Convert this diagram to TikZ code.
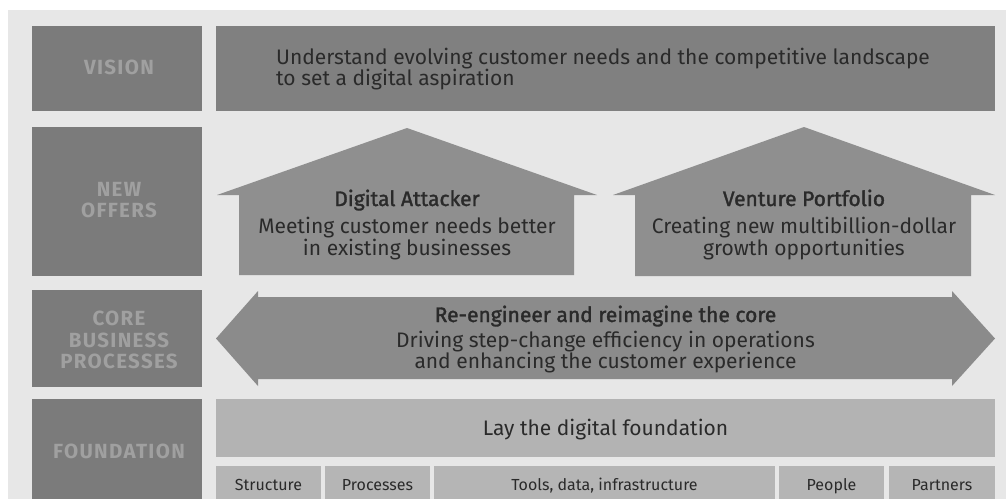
\documentclass[tikz,border=0pt]{standalone}
\usepackage{fontspec}
\setmainfont{Fira Sans}
\newfontfamily\headfont{Fira Sans}[FakeBold=1.6]
\newfontfamily\labelfont{Fira Sans}[LetterSpace=6.5]
\definecolor{pagebg}{HTML}{E7E7E7}
\definecolor{labelbox}{HTML}{7B7B7B}
\definecolor{labeltext}{HTML}{A0A0A0}
\definecolor{visionbox}{HTML}{808080}
\definecolor{offerfill}{HTML}{8F8F8F}
\definecolor{corefill}{HTML}{8B8B8B}
\definecolor{basebar}{HTML}{B3B3B3}
\definecolor{basecell}{HTML}{B5B5B5}
\definecolor{ink}{HTML}{2A2A2A}
\begin{document}
\begin{tikzpicture}[x=1pt,y=-1pt,
  rowlabel/.style={text=labeltext,font=\labelfont\bfseries\fontsize{20.5}{21.5}\selectfont,align=center,inner sep=0pt},
  bodytext/.style={text=ink,font=\fontsize{21}{22}\selectfont,inner sep=0pt,anchor=base},
  titletext/.style={text=ink,font=\headfont\fontsize{21}{22}\selectfont,inner sep=0pt,anchor=base},
  celltext/.style={text=ink,font=\fontsize{16}{18}\selectfont,inner sep=0pt,anchor=base}]
\useasboundingbox (0,0) rectangle (1006,499);
% page
\fill[white] (0,0) rectangle (1006,499);
\fill[pagebg] (8,10) rectangle (1006,499);

% left column of row labels
\fill[labelbox] (32,26) rectangle (202,111);
\fill[labelbox] (32,127) rectangle (202,276);
\fill[labelbox] (32,290) rectangle (202,387);
\fill[labelbox] (32,399) rectangle (202,499);
\node[rowlabel] (lvision) at (119,67) {VISION};
\node[rowlabel] (loffers) at (119,200) {NEW\\OFFERS};
\node[rowlabel] (lcore) at (119,340) {CORE\\BUSINESS\\PROCESSES};
\node[rowlabel] (lfound) at (119,451) {FOUNDATION};

% vision
\fill[visionbox] (216,26) rectangle (995,111);
\node[bodytext,anchor=base west] (vis1) at (276,64) {Understand evolving customer needs and the competitive landscape};
\node[bodytext,anchor=base west] (vis2) at (276,85) {to set a digital aspiration};

% new offers: two houses
\fill[offerfill] (407,128) -- (597,195) -- (574,195) -- (574,275) -- (239,275) -- (239,195) -- (217,195) -- cycle;
\fill[offerfill] (804,127) -- (995,195) -- (971,195) -- (971,276) -- (635,276) -- (635,195) -- (613,195) -- cycle;
\node[titletext] (da0) at (407,206) {Digital Attacker};
\node[bodytext] (da1) at (407,233) {Meeting customer needs better};
\node[bodytext] (da2) at (407,255) {in existing businesses};
\node[titletext] (vp0) at (804,206) {Venture Portfolio};
\node[bodytext] (vp1) at (804,233) {Creating new multibillion-dollar};
\node[bodytext] (vp2) at (804,255) {growth opportunities};

% core business processes: double arrow
\fill[corefill] (216,338.5) -- (258,291) -- (258,297) -- (952,297) -- (952,291) -- (995,338.5)
  -- (952,386) -- (952,379) -- (258,379) -- (258,386) -- cycle;
\node[titletext] (core0) at (605.5,322) {Re-engineer and reimagine the core};
\node[bodytext] (core1) at (605.5,347) {Driving step-change efficiency in operations};
\node[bodytext] (core2) at (605.5,368) {and enhancing the customer experience};

% foundation
\fill[basebar] (216,399) rectangle (995,457);
\node[bodytext] (found) at (605.5,435) {Lay the digital foundation};
\fill[basecell] (216,466) rectangle (321,499);
\fill[basecell] (325,466) rectangle (430,499);
\fill[basecell] (434,466) rectangle (775,499);
\fill[basecell] (779,466) rectangle (884,499);
\fill[basecell] (889,466) rectangle (995,499);
\node[celltext] (c1) at (268.5,490) {Structure};
\node[celltext] (c2) at (377.5,490) {Processes};
\node[celltext] (c3) at (604.5,490) {Tools, data, infrastructure};
\node[celltext] (c4) at (831.5,490) {People};
\node[celltext] (c5) at (942,490) {Partners};
\end{tikzpicture}
\end{document}
